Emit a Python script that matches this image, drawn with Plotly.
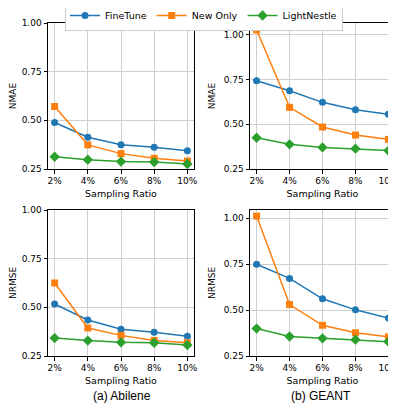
import plotly.graph_objects as go

ratios = [2, 4, 6, 8, 10]
tick_labels = ["2%", "4%", "6%", "8%", "10%"]
series_names = ["FineTune", "New Only", "LightNestle"]

abilene_nmae_finetune = [0.489, 0.413, 0.375, 0.362, 0.344]
abilene_nmae_newonly = [0.571, 0.374, 0.329, 0.305, 0.291]
abilene_nmae_lightnestle = [0.313, 0.298, 0.288, 0.286, 0.276]

geant_nmae_finetune = [0.744, 0.688, 0.623, 0.582, 0.556]
geant_nmae_newonly = [1.028, 0.595, 0.485, 0.440, 0.416]
geant_nmae_lightnestle = [0.425, 0.388, 0.371, 0.364, 0.353]

abilene_nrmse_finetune = [0.517, 0.435, 0.387, 0.372, 0.351]
abilene_nrmse_newonly = [0.625, 0.394, 0.356, 0.330, 0.318]
abilene_nrmse_lightnestle = [0.342, 0.329, 0.320, 0.318, 0.306]

geant_nrmse_finetune = [0.749, 0.672, 0.561, 0.501, 0.456]
geant_nrmse_newonly = [1.011, 0.530, 0.417, 0.376, 0.354]
geant_nrmse_lightnestle = [0.399, 0.356, 0.346, 0.339, 0.328]

colors = ["#1f77b4", "#ff7f0e", "#2ca02c"]
symbols = ["circle", "square", "diamond"]

# The page body has an 8px margin; draw in a figure offset by that much.
OFF = 8
W, H = 396 - OFF, 410 - OFF
def xd(a, b):
    return [(a - OFF) / W, (b - OFF) / W]
def yd(top, bottom):
    return [1 - (bottom - OFF) / H, 1 - (top - OFF) / H]
def px(x):
    return (x - OFF) / W
def py(y):
    return 1 - (y - OFF) / H

panels = [
    dict(data=[abilene_nmae_finetune, abilene_nmae_newonly, abilene_nmae_lightnestle],
         ytitle="NMAE", x=xd(48, 194), y=yd(23, 169), yr=[0.25, 1.0]),
    dict(data=[geant_nmae_finetune, geant_nmae_newonly, geant_nmae_lightnestle],
         ytitle="NMAE", x=xd(250, 395), y=yd(23, 169), yr=[0.25, 1.067]),
    dict(data=[abilene_nrmse_finetune, abilene_nrmse_newonly, abilene_nrmse_lightnestle],
         ytitle="NRMSE", x=xd(48, 194), y=yd(210, 356), yr=[0.25, 1.0]),
    dict(data=[geant_nrmse_finetune, geant_nrmse_newonly, geant_nrmse_lightnestle],
         ytitle="NRMSE", x=xd(250, 395), y=yd(210, 356), yr=[0.25, 1.044]),
]

fig = go.Figure()
font = dict(family="DejaVu Sans", size=9, color="black")
layout = dict(
    width=W, height=H, autosize=False,
    margin=dict(l=0, r=0, t=0, b=0, pad=0, autoexpand=False),
    plot_bgcolor="white", paper_bgcolor="white", font=font,
    showlegend=True,
    legend=dict(orientation="h", x=px(204), y=py(0), xanchor="center", yanchor="top",
                bordercolor="#cccccc", borderwidth=1, font=dict(family="DejaVu Sans", size=9.5),
                bgcolor="white", itemwidth=30, tracegroupgap=0),
)

for i, p in enumerate(panels):
    n = "" if i == 0 else str(i + 1)
    for j, vals in enumerate(p["data"]):
        fig.add_trace(go.Scatter(
            x=ratios, y=vals, mode="lines+markers", name=series_names[j],
            legendgroup=series_names[j], showlegend=(i == 0),
            line=dict(color=colors[j], width=1.5),
            marker=dict(symbol=symbols[j], size=7 if j != 2 else 8, color=colors[j]),
            xaxis="x" + n, yaxis="y" + n, cliponaxis=False,
        ))
    layout["xaxis" + n] = dict(
        domain=p["x"], anchor="y" + n, range=[1.6, 10.4], automargin=False,
        tickvals=ratios, ticktext=tick_labels, ticklabeloverflow="allow",
        showline=True, mirror=True, linecolor="black", linewidth=1,
        ticks="outside", ticklen=3.5, tickcolor="black",
        showgrid=True, gridcolor="#cfcfcf", gridwidth=1, zeroline=False,
        title=dict(text="Sampling Ratio", font=dict(size=9.5), standoff=5),
    )
    layout["yaxis" + n] = dict(
        domain=p["y"], anchor="x" + n, range=p["yr"], automargin=False,
        tickvals=[0.25, 0.5, 0.75, 1.0], tickformat=".2f", ticklabeloverflow="allow",
        showline=True, mirror=True, linecolor="black", linewidth=1,
        ticks="outside", ticklen=3.5, tickcolor="black",
        showgrid=True, gridcolor="#cfcfcf", gridwidth=1, zeroline=False,
        title=dict(text=p["ytitle"], font=dict(size=9), standoff=6),
    )

fig.update_layout(**layout)
fig.add_annotation(text="(a) Abilene", x=px(122), y=py(396), xref="paper", yref="paper",
                   xanchor="center", yanchor="middle",
                   showarrow=False, font=dict(family="Liberation Sans", size=12, color="black"))
fig.add_annotation(text="(b) GEANT", x=px(321), y=py(396), xref="paper", yref="paper",
                   xanchor="center", yanchor="middle",
                   showarrow=False, font=dict(family="Liberation Sans", size=12, color="black"))

fig.write_html("out.html")
